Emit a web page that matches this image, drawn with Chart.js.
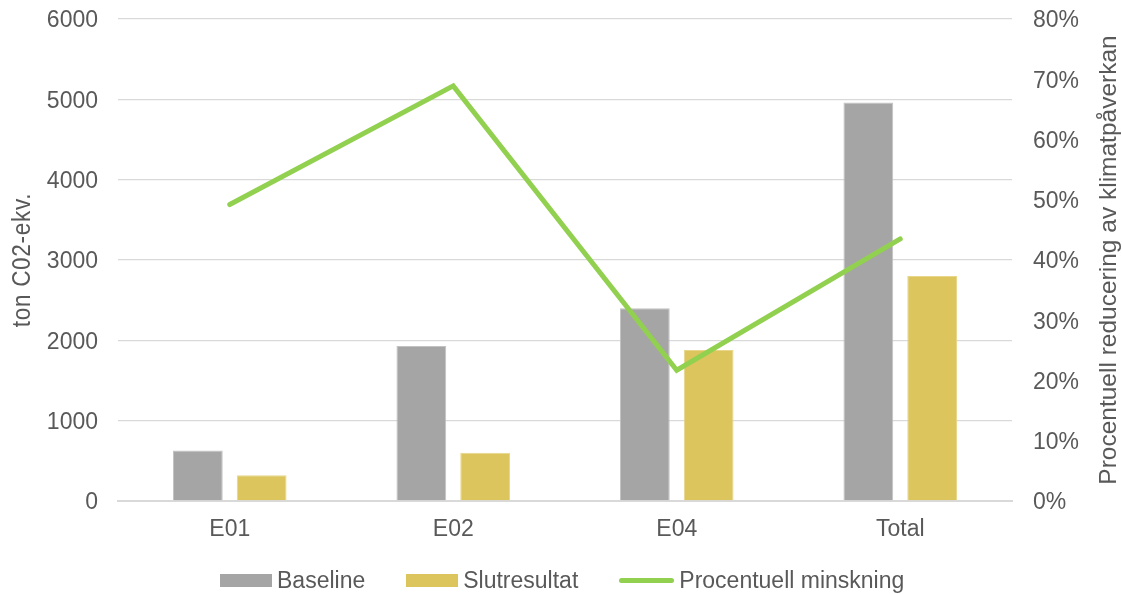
<!DOCTYPE html>
<html>
<head>
<meta charset="utf-8">
<script src="https://cdn.jsdelivr.net/npm/chart.js@4.4.1/dist/chart.umd.min.js"></script>
<style>
  html, body { margin: 0; padding: 0; background: #ffffff; }
  #wrap { position: relative; width: 1122px; height: 594px; overflow: hidden; }
  #legend {
    position: absolute; left: 220px; top: 567px; height: 27px;
    display: flex; align-items: center; white-space: nowrap;
    font: 23px "Liberation Sans", Arial, sans-serif; color: #595959;
  }
  .item { display: flex; align-items: center; margin-right: 41px; }
  .sw { width: 52px; height: 13px; margin-right: 5px; }
  .ln { width: 55px; height: 5px; border-radius: 3px; margin-right: 5px; }
</style>
</head>
<body>
<div id="wrap">
  <canvas id="c" width="1122" height="594"></canvas>
  <div id="legend"></div>
</div>
<script>
// Emissions per stage (ton CO2-ekv.) and the relative reduction
const categories = ['E01', 'E02', 'E04', 'Total'];
const baseline = [630, 1930, 2400, 4960];
const slutresultat = [320, 600, 1880, 2800];
const minskning = [49.2, 68.9, 21.7, 43.5];

const seriesNames = ['Baseline', 'Slutresultat', 'Procentuell minskning'];
const seriesColors = ['#A5A5A5', '#DCC55C', '#92D050'];
const leftTitle = 'ton C02-ekv.';
const rightTitle = 'Procentuell reducering av klimatpåverkan';

const tickFont = { family: '"Liberation Sans", Arial, sans-serif', size: 23 };
const textColor = '#595959';

// Vertical axis titles, both reading bottom to top
const axisTitlePlugin = {
  id: 'axisTitles',
  afterDraw(chart) {
    const { ctx, chartArea } = chart;
    const midY = (chartArea.top + chartArea.bottom) / 2;
    const draw = (text, x, font, spacing, squeeze) => {
      ctx.save();
      ctx.translate(x, midY);
      ctx.rotate(-Math.PI / 2);
      ctx.scale(squeeze, 1);
      ctx.font = font;
      if ('letterSpacing' in ctx) ctx.letterSpacing = spacing;
      ctx.fillStyle = textColor;
      ctx.textAlign = 'center';
      ctx.textBaseline = 'middle';
      ctx.fillText(text, 0, 0);
      ctx.restore();
    };
    // narrow face for the unit label
    draw(leftTitle, chart.scales.y.left + 23,
         '25px "Liberation Sans", Arial, sans-serif', '0.8px', 0.9);
    draw(rightTitle, chart.scales.y2.left + 97,
         '24.5px "Liberation Sans", Arial, sans-serif', '0px', 1);
  }
};

// Keep the plot edges fixed regardless of tick-label overhang
const noOverhang = (scale) => { scale.paddingTop = 0; scale.paddingBottom = 0; };

new Chart(document.getElementById('c'), {
  data: {
    labels: categories,
    datasets: [
      {
        type: 'bar', label: seriesNames[0], data: baseline, yAxisID: 'y',
        backgroundColor: seriesColors[0], borderColor: '#C2C2C2', borderWidth: 1,
        order: 2
      },
      {
        type: 'bar', label: seriesNames[1], data: slutresultat, yAxisID: 'y',
        backgroundColor: seriesColors[1], borderColor: '#E8D68A', borderWidth: 1,
        order: 2
      },
      {
        type: 'line', label: seriesNames[2], data: minskning, yAxisID: 'y2',
        borderColor: seriesColors[2], borderWidth: 5, pointRadius: 0,
        pointHoverRadius: 0, borderCapStyle: 'round', borderJoinStyle: 'miter',
        tension: 0, fill: false, order: 0
      }
    ]
  },
  options: {
    responsive: false,
    animation: false,
    devicePixelRatio: 1,
    layout: { padding: { top: 19, bottom: 40, left: 0, right: 0 } },
    datasets: { bar: { categoryPercentage: 0.571, barPercentage: 0.78 } },
    plugins: { legend: { display: false }, tooltip: { enabled: false } },
    scales: {
      x: {
        grid: { display: false, drawTicks: false },
        border: { display: true, color: '#D9D9D9', width: 2 },
        ticks: { font: tickFont, color: textColor, padding: 15 },
        afterFit(scale) { scale.height = 53; }
      },
      y: {
        position: 'left', min: 0, max: 6000,
        ticks: { stepSize: 1000, font: tickFont, color: textColor, padding: 20,
                 labelOffset: 2, callback: v => String(v) },
        grid: { color: '#D9D9D9', lineWidth: 1.3, drawTicks: false },
        border: { display: false },
        afterFit(scale) { scale.width = 118; noOverhang(scale); }
      },
      y2: {
        position: 'right', min: 0, max: 80,
        ticks: { stepSize: 10, font: tickFont, color: textColor, padding: 21,
                 labelOffset: 2, callback: v => v + '%' },
        grid: { display: false, drawTicks: false },
        border: { display: false },
        afterFit(scale) { scale.width = 110; noOverhang(scale); }
      }
    }
  },
  plugins: [axisTitlePlugin]
});

// Legend row below the plot
const legend = document.getElementById('legend');
seriesNames.forEach((name, i) => {
  const item = document.createElement('div');
  item.className = 'item';
  const mark = document.createElement('div');
  mark.className = i === 2 ? 'ln' : 'sw';
  mark.style.background = seriesColors[i];
  const label = document.createElement('span');
  label.textContent = name;
  item.appendChild(mark);
  item.appendChild(label);
  legend.appendChild(item);
});
</script>
</body>
</html>
